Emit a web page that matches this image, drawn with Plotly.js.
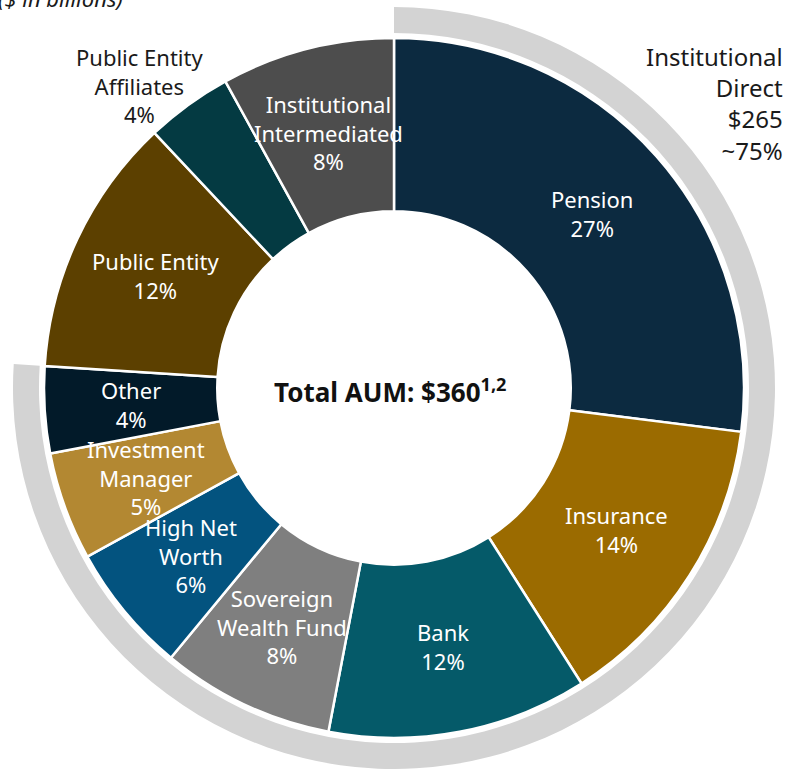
<!DOCTYPE html>
<html>
<head>
<meta charset="utf-8">
<script src="https://cdn.plot.ly/plotly-3.0.1.min.js"></script>
<style>html,body{margin:0;padding:0;background:#fff;}#chart{width:788px;height:769px;}</style>
</head>
<body>
<div id="chart"></div>
<script>
// ---- data ----
var categories = ["Pension", "Insurance", "Bank", "Sovereign Wealth Fund", "High Net Worth",
  "Investment Manager", "Other", "Public Entity", "Public Entity Affiliates", "Institutional Intermediated"];
var shares = [27, 14, 12, 8, 6, 5, 4, 12, 4, 8];
var sliceLabels = ["Pension", "Insurance", "Bank", "Sovereign<br>Wealth Fund", "High Net<br>Worth",
  "Investment<br>Manager", "Other", "Public Entity", "Public Entity<br>Affiliates", "Institutional<br>Intermediated"];
var directCount = 7;            // first 7 categories = Institutional Direct
var totalAUM = 360;
var directAUM = 265;
var directLabel = "Institutional<br>Direct<br>$" + directAUM + "<br>~75%";
var unitsNote = "($ in billions)";

// ---- style ----
var colors = ["#0c2a40", "#9b6b00", "#055a69", "#7f7f7f", "#03537f",
  "#b38832", "#021a29", "#5c4000", "#043a42", "#4d4d4d"];
var outsideIdx = 8;  // label drawn outside the ring
var W = 788, H = 769;
var cxPx = 394, cyPx = 388, R = 350, holeFrac = 0.505;
var arcOuter = 381, arcInner = 355;
var labelFont = {family: "Noto Sans, sans-serif", size: 22};

var mainDomain = {x: [(cxPx - R) / W, (cxPx + R) / W], y: [(H - cyPx - R) / H, (H - cyPx + R) / H]};
var arcDomain = {x: [(cxPx - arcOuter) / W, (cxPx + arcOuter) / W], y: [(H - cyPx - arcOuter) / H, (H - cyPx + arcOuter) / H]};
arcDomain.y[0] = Math.max(0, arcDomain.y[0]);

var directShare = shares.slice(0, directCount).reduce(function (a, b) { return a + b; }, 0);
var total = shares.reduce(function (a, b) { return a + b; }, 0);

var traces = [
  {
    type: "pie", values: [directShare, total - directShare], labels: ["Institutional Direct", "rest"],
    sort: false, direction: "clockwise", rotation: 0, hole: arcInner / arcOuter,
    marker: {colors: ["#d3d3d3", "rgba(0,0,0,0)"], line: {width: 0}},
    textinfo: "none", hoverinfo: "skip", domain: arcDomain, showlegend: false
  },
  {
    type: "pie", values: shares, labels: categories,
    sort: false, direction: "clockwise", rotation: 0, hole: holeFrac,
    marker: {colors: colors, line: {color: "#ffffff", width: 2.5}},
    textinfo: "none", domain: mainDomain, showlegend: false
  }
];

var annotations = [];
var cum = 0;
var rMid = R * (1 + holeFrac) / 2;
for (var i = 0; i < shares.length; i++) {
  var mid = (cum + shares[i] / 2) / total;
  cum += shares[i];
  var th = 2 * Math.PI * mid;
  var r = rMid, col = "#ffffff";
  if (i === outsideIdx) { r = R * 1.13; th -= 4 * Math.PI / 180; col = "#1a1a1a"; }
  var xp = cxPx + r * Math.sin(th), yp = cyPx - r * Math.cos(th);
  annotations.push({
    xref: "paper", yref: "paper", x: xp / W, y: 1 - yp / H,
    text: sliceLabels[i] + "<br>" + shares[i] + "%", showarrow: false,
    font: {family: labelFont.family, size: labelFont.size, color: col},
    xanchor: "center", yanchor: "middle", align: "center"
  });
}
annotations.push({
  xref: "paper", yref: "paper", x: (cxPx - 4) / W, y: 1 - (cyPx + 3) / H,
  text: "<b>Total AUM: $" + totalAUM + "<sup>1,2</sup></b>", showarrow: false,
  font: {family: "Noto Sans, sans-serif", size: 26, color: "#111111"},
  xanchor: "center", yanchor: "middle"
});
annotations.push({
  xref: "paper", yref: "paper", x: 785 / W, y: 1 - 103 / H,
  text: directLabel, showarrow: false, align: "right",
  font: {family: "Noto Sans, sans-serif", size: 24, color: "#1a1a1a"},
  xanchor: "right", yanchor: "middle"
});
annotations.push({
  xref: "paper", yref: "paper", x: -4 / W, y: 1 + 2 / H,
  text: "<i>" + unitsNote + "</i>", showarrow: false,
  font: {family: "Noto Sans, sans-serif", size: 22, color: "#1a1a1a"},
  xanchor: "left", yanchor: "middle"
});

var layout = {
  width: W, height: H, margin: {l: 0, r: 0, t: 0, b: 0},
  paper_bgcolor: "#ffffff", showlegend: false, annotations: annotations
};
Plotly.newPlot("chart", traces, layout, {displayModeBar: false, staticPlot: true});
</script>
</body>
</html>
